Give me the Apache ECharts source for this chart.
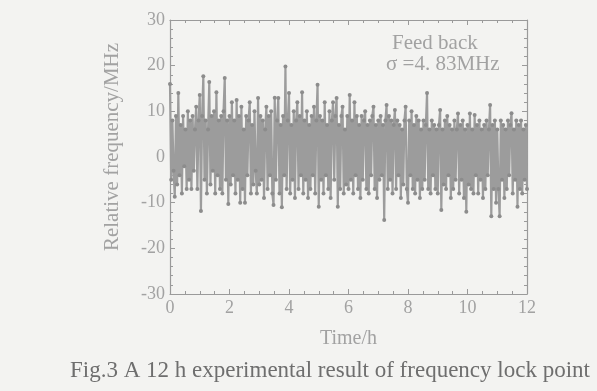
<!DOCTYPE html>
<html>
<head>
<meta charset="utf-8">
<script src="https://cdn.jsdelivr.net/npm/echarts@6/dist/echarts.min.js"></script>
<style>
html,body{margin:0;padding:0;background:#f3f3f1;}
#c{width:597px;height:391px;}
</style>
</head>
<body>
<div id="c"></div>
<script>
// Sampling interval of the record (hours)
var sampleStepHours = 0.04;
// Relative frequency (MHz)
var hour0 = [16,-5,8,-3,-8.7,9,-6,14,-4,7,-8,9,-2,6,-7,10,-5,8,-7,9,-3,6,11,-7,8];
var hour1 = [13.6,-11.8,9,17.7,-5,8,-8,6,16.4,-6,9,-3,10,-8,14.2,-4,8,-7,9,-8,10,17.3,-5,8,-10.3];
var hour2 = [9,-6,12,-4,8,-8,12.5,-5,9,-10,11,-7,6,-10,9,-4,8,12,-8,7,-6,10,-3,-8,12.9];
var hour3 = [-6,9,-5,8,-9,6,11,-7,9,-4,10,-8,-10.5,13,-5,8,12.9,-8,7,-11,9,-4,19.8,-7,8];
var hour4 = [14,-8,7,-5,10,-9,8,12,-7,9,-4,14.2,-8,8,-5,10,-9,7,-7,9,-4,11,-8,8,15.8];
var hour5 = [-10.9,9,-5,8,-8,12,-4,7,-7,10,-9,8,12,-5,9,12.9,-10.9,7,-7,9,11,-8,6,-6,9];
var hour6 = [-7,13.6,-5,8,-8,12,-4,9,-7,7,-9,9,-5,8,10,-7,7,-8,8,-4,9,11,-7,7,-9];
var hour7 = [8,-5,9,-4,7,-13.8,8,11.4,-7,9,-5,8,-8,7,10.3,-7,8,-4,7,-9,6,-6,8,11,-7];
var hour8 = [-10,8,-4,10,-7,7,-8,9,-5,8,-9,6,-7,8,-5,7,14,-7,6,-8,8,-4,7,-7,6];
var hour9 = [-8,7,10.3,-11.6,6,-6,8,-7,9,-4,7,-9,6,-7,8,-5,6,9.5,-8,7,-5,8,-9,6,-12];
var hour10 = [7,-6,9.5,-7,6,-8,9.2,-4,7,-8,8,-5,6,-9,7,-7,8,-4,6,11.4,-13,7,-7,8,-10];
var hour11 = [6,-7,-13,8,-5,7,-9,6,-7,8,-4,7,9.6,-8,6,-5,8,-10.9,7,-7,8,-8,6,-5,7,-7];

var xTicks = [0,2,4,6,8,10,12];
var yTicks = [-30,-20,-10,0,10,20,30];

var relFreq = [].concat(hour0,hour1,hour2,hour3,hour4,hour5,hour6,hour7,hour8,hour9,hour10,hour11);
var seriesData = relFreq.map(function(v,i){ return [+(i*sampleStepHours).toFixed(3), v]; });

var serif = '"Liberation Serif","DejaVu Serif",serif';
var axisCol = '#9a9a9a';
var txtCol = '#a2a2a2';

function boxAxis(extra){
  var a = {
    axisLine:{show:true, onZero:false, lineStyle:{color:axisCol, width:1.2}},
    axisTick:{inside:true, length:5, lineStyle:{color:axisCol}},
    splitLine:{show:false}
  };
  for (var k in extra) a[k] = extra[k];
  return a;
}

var chart = echarts.init(document.getElementById('c'), null, {renderer:'canvas'});
chart.setOption({
  backgroundColor: '#f3f3f1',
  animation: false,
  grid: {left:170, right:70, top:20, bottom:97},
  xAxis: [boxAxis({
    type:'value', position:'bottom', min:xTicks[0], max:xTicks[xTicks.length-1], interval:2,
    name:'Time/h', nameLocation:'middle', nameGap:35,
    nameTextStyle:{fontFamily:serif, fontSize:20, color:txtCol},
    minorTick:{show:true, splitNumber:4, length:3, lineStyle:{color:axisCol}},
    axisLabel:{fontFamily:serif, fontSize:18, color:txtCol, margin:5}
  }), boxAxis({
    type:'value', position:'top', min:xTicks[0], max:xTicks[xTicks.length-1], interval:2,
    minorTick:{show:true, splitNumber:4, length:3, lineStyle:{color:axisCol}},
    axisLabel:{show:false}
  })],
  yAxis: [boxAxis({
    type:'value', position:'left', min:yTicks[0], max:yTicks[yTicks.length-1], interval:10,
    name:'Relative frequency/MHz', nameLocation:'middle', nameGap:47, nameRotate:90,
    nameTextStyle:{fontFamily:serif, fontSize:21, color:txtCol, padding:[0,0,0,20]},
    minorTick:{show:true, splitNumber:5, length:3, lineStyle:{color:axisCol}},
    axisLabel:{fontFamily:serif, fontSize:18, color:txtCol, margin:5}
  }), boxAxis({
    type:'value', position:'right', min:yTicks[0], max:yTicks[yTicks.length-1], interval:10,
    minorTick:{show:true, splitNumber:5, length:3, lineStyle:{color:axisCol}},
    axisLabel:{show:false}
  })],
  series: [{
    type:'line', xAxisIndex:0, yAxisIndex:0,
    data: seriesData,
    showSymbol:true, showAllSymbol:true,
    symbol:'circle', symbolSize:4,
    itemStyle:{color:'#8c8c8c'},
    lineStyle:{color:'#9c9c9c', width:2.2},
    emphasis:{disabled:true}
  }],
  graphic: [
    {type:'text', left:392, top:33, style:{text:'Feed back', fontFamily:serif, fontSize:21, fill:txtCol}},
    {type:'text', left:386, top:54, style:{text:'σ =4. 83MHz', fontFamily:serif, fontSize:21, fill:txtCol}},
    {type:'text', left:70, top:359, style:{text:'Fig.3 A 12 h experimental result of frequency lock point', fontFamily:serif, fontSize:23, fill:'#6e6e6e'}}
  ]
});
</script>
</body>
</html>
